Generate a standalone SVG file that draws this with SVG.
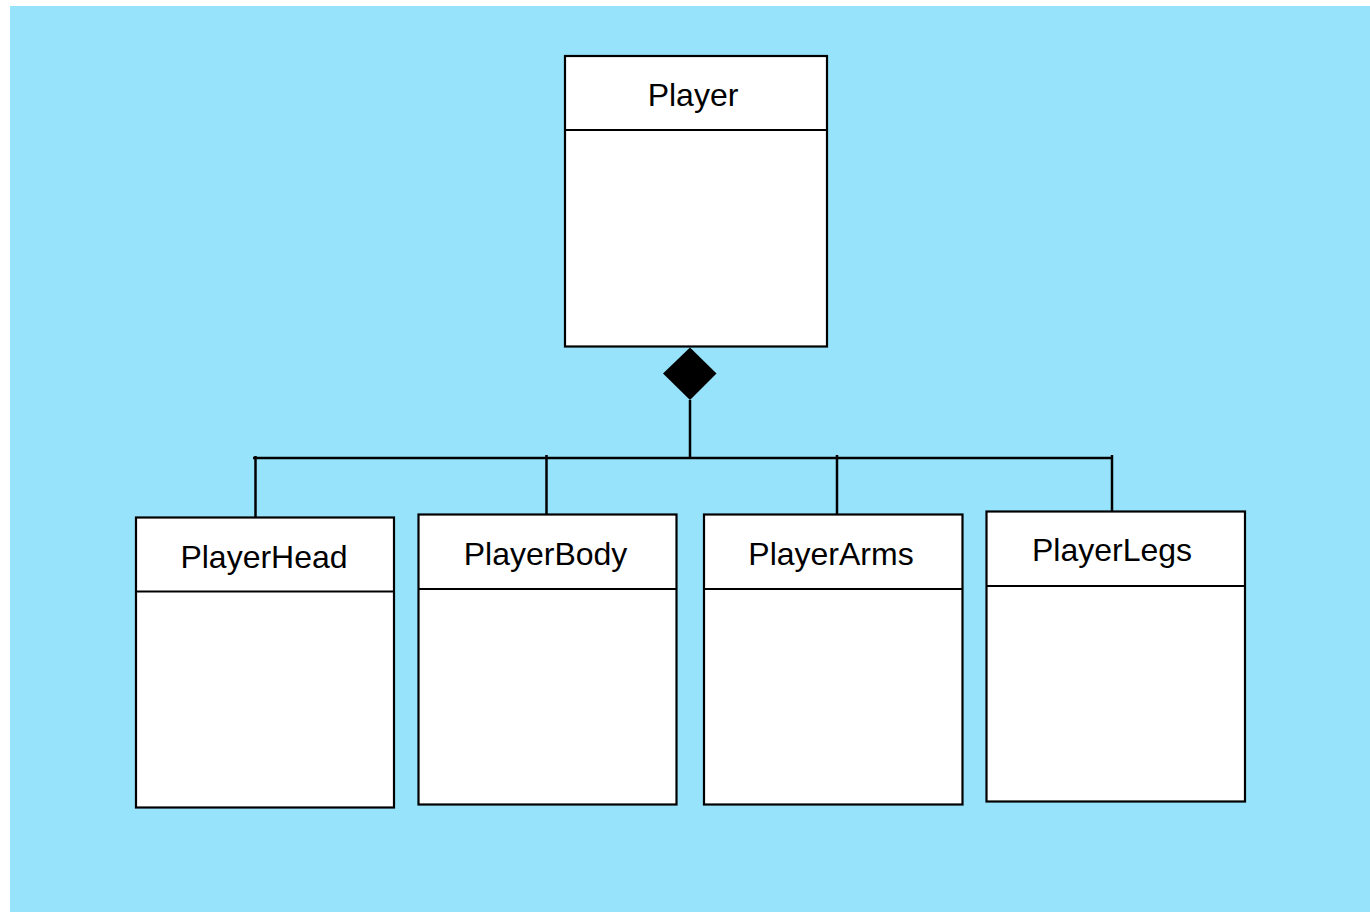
<svg xmlns="http://www.w3.org/2000/svg" width="1370" height="912" viewBox="0 0 1370 912">
  <style>
    .box { fill: #ffffff; stroke: #000000; stroke-width: 2.2; }
    .div { fill: none; stroke: #000000; stroke-width: 2.2; }
    .lbl { font-family: "Liberation Sans", Arial, sans-serif; font-size: 32px; fill: #000000; text-anchor: middle; }
    .conn { fill: none; stroke: #000000; stroke-width: 2.5; }
  </style>
  <rect x="0" y="0" width="1370" height="912" fill="#ffffff"/>
  <rect x="10" y="6" width="1360" height="906" fill="#97e3fb"/>

  <g id="connectors">
    <line class="conn" x1="690" y1="400" x2="690" y2="458"/>
    <line class="conn" x1="253" y1="458" x2="1112" y2="458"/>
    <line class="conn" x1="255.5" y1="456" x2="255.5" y2="517"/>
    <line class="conn" x1="546.5" y1="455" x2="546.5" y2="517"/>
    <line class="conn" x1="837" y1="455" x2="837" y2="515"/>
    <line class="conn" x1="1112" y1="455" x2="1112" y2="515"/>
    <polygon points="690,347.5 716.5,373.5 690,400 663,373.5" fill="#000000"/>
  </g>

  <g id="player">
    <rect class="box" x="565" y="56" width="262" height="290.5"/>
    <line class="div" x1="565" y1="130" x2="827" y2="130"/>
    <text class="lbl" x="693" y="106">Player</text>
  </g>

  <g id="playerHead">
    <rect class="box" x="136" y="517.5" width="258" height="290"/>
    <line class="div" x1="136" y1="591.5" x2="394" y2="591.5"/>
    <text class="lbl" x="264" y="567.5">PlayerHead</text>
  </g>

  <g id="playerBody">
    <rect class="box" x="418.5" y="514.5" width="258" height="290"/>
    <line class="div" x1="418.5" y1="589" x2="676.5" y2="589"/>
    <text class="lbl" x="545.5" y="565">PlayerBody</text>
  </g>

  <g id="playerArms">
    <rect class="box" x="704" y="514.5" width="258.5" height="290"/>
    <line class="div" x1="704" y1="589" x2="962.5" y2="589"/>
    <text class="lbl" x="831" y="565">PlayerArms</text>
  </g>

  <g id="playerLegs">
    <rect class="box" x="986.5" y="511.5" width="258.5" height="290"/>
    <line class="div" x1="986.5" y1="586" x2="1245" y2="586"/>
    <text class="lbl" x="1112" y="561">PlayerLegs</text>
  </g>
</svg>
